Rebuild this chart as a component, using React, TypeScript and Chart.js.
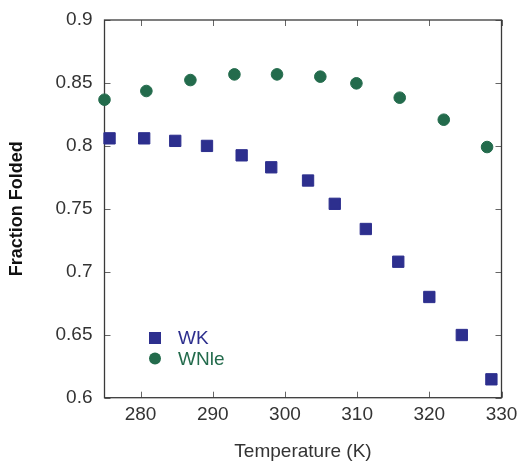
import React, { useEffect, useRef } from "react";
import { Chart, registerables } from "chart.js";

Chart.register(...registerables);

// ---- data ----
const seriesNames = ["WK", "WNle"];
const wkTemps = [275.7, 280.5, 284.8, 289.2, 294.0, 298.1, 303.2, 306.9, 311.2, 315.7, 320.0, 324.5, 328.6];
const wkFraction = [0.806, 0.806, 0.804, 0.8, 0.7925, 0.783, 0.7725, 0.754, 0.734, 0.708, 0.68, 0.6498, 0.6146];
const wnleTemps = [275.0, 280.8, 286.9, 293.0, 298.9, 304.9, 309.9, 315.9, 322.0, 328.0];
const wnleFraction = [0.8367, 0.8436, 0.8523, 0.8568, 0.8568, 0.855, 0.8497, 0.8383, 0.8208, 0.7991];
const xTickValues = [280, 290, 300, 310, 320, 330];
const yTickValues = [0.6, 0.65, 0.7, 0.75, 0.8, 0.85, 0.9];
const xRange = [275, 330];
const yRange = [0.6, 0.9];
const xTitle = "Temperature (K)";
const yTitle = "Fraction Folded";

const BLUE = "#2d2f8e";
const GREEN = "#236b4c";
const FONT = "'Liberation Sans', Arial, Helvetica, sans-serif";

const framePlugin = {
  id: "frameTicks",
  beforeDatasetsDraw(chart: any) {
    const { ctx, chartArea, scales } = chart;
    const { left, right, top, bottom } = chartArea;
    const x = scales.x;
    const y = scales.y;
    const tl = 6;
    ctx.save();
    ctx.strokeStyle = "#666";
    ctx.lineWidth = 1;
    ctx.beginPath();
    xTickValues.forEach((v) => {
      const px = Math.round(x.getPixelForValue(v)) + 0.5;
      ctx.moveTo(px, bottom);
      ctx.lineTo(px, bottom - tl);
      ctx.moveTo(px, top);
      ctx.lineTo(px, top + tl);
    });
    yTickValues.forEach((v) => {
      const py = Math.round(y.getPixelForValue(v)) + 0.5;
      ctx.moveTo(left, py);
      ctx.lineTo(left + tl, py);
      ctx.moveTo(right, py);
      ctx.lineTo(right - tl, py);
    });
    ctx.stroke();
    ctx.strokeStyle = "#3a3a3a";
    ctx.lineWidth = 1.3;
    ctx.strokeRect(left, top, right - left, bottom - top);
    ctx.restore();
  },
};

const legendPlugin = {
  id: "innerLegend",
  afterDatasetsDraw(chart: any) {
    const { ctx, chartArea } = chart;
    const mx = chartArea.left + 50.5;
    const tx = chartArea.left + 73.5;
    const rows = [chartArea.top + 318, chartArea.top + 338.5];
    ctx.save();
    ctx.font = `19px ${FONT}`;
    ctx.textBaseline = "middle";
    ctx.textAlign = "left";
    chart.data.datasets.forEach((ds: any, i: number) => {
      const cy = rows[i];
      ctx.fillStyle = ds.backgroundColor;
      if (ds.pointStyle === "rect") {
        ctx.fillRect(mx - 6, cy - 6, 12, 12);
      } else {
        ctx.beginPath();
        ctx.arc(mx, cy, 6, 0, Math.PI * 2);
        ctx.fill();
      }
      ctx.fillText(ds.label, tx, cy + 1);
    });
    ctx.restore();
  },
};

export default function App() {
  const ref = useRef<HTMLCanvasElement | null>(null);

  useEffect(() => {
    if (!ref.current) return;
    const chart = new Chart(ref.current, {
      type: "scatter",
      data: {
        datasets: [
          {
            label: seriesNames[0],
            data: wkTemps.map((t, i) => ({ x: t, y: wkFraction[i] })),
            pointStyle: "rect",
            pointRadius: 8,
            borderWidth: 1,
            backgroundColor: BLUE,
            borderColor: BLUE,
            clip: false,
          } as any,
          {
            label: seriesNames[1],
            data: wnleTemps.map((t, i) => ({ x: t, y: wnleFraction[i] })),
            pointStyle: "circle",
            pointRadius: 5.8,
            borderWidth: 1,
            backgroundColor: GREEN,
            borderColor: GREEN,
            clip: false,
          } as any,
        ],
      },
      options: {
        animation: false,
        responsive: true,
        maintainAspectRatio: false,
        layout: { padding: { top: 20, right: 17.5, bottom: 0, left: 0 } },
        plugins: {
          legend: { display: false },
          tooltip: { enabled: false },
        },
        scales: {
          x: {
            type: "linear",
            min: xRange[0],
            max: xRange[1],
            grid: { display: false, drawTicks: false },
            border: { display: false },
            afterBuildTicks: (axis: any) => {
              axis.ticks = xTickValues.map((v) => ({ value: v }));
            },
            afterFit: (s: any) => {
              s.height = 63.3;
              s.paddingLeft = 0;
              s.paddingRight = 0;
            },
            ticks: {
              padding: 6,
              color: "#333",
              font: { family: FONT, size: 19 },
              callback: (v: any) => String(v),
            },
            title: {
              display: true,
              text: xTitle,
              color: "#333",
              font: { family: FONT, size: 19, lineHeight: 1 },
              padding: { top: 0, bottom: 0 },
            },
          },
          y: {
            type: "linear",
            min: yRange[0],
            max: yRange[1],
            grid: { display: false, drawTicks: false },
            border: { display: false },
            afterBuildTicks: (axis: any) => {
              axis.ticks = yTickValues.map((v) => ({ value: v }));
            },
            afterFit: (s: any) => {
              s.width = 104.5;
              s.paddingTop = 0;
              s.paddingBottom = 0;
            },
            ticks: {
              padding: 12,
              color: "#333",
              font: { family: FONT, size: 19 },
              callback: (v: any) => String(Math.round(Number(v) * 100) / 100),
            },
            title: {
              display: true,
              text: yTitle,
              color: "#111",
              font: { family: FONT, size: 18, weight: "bold", lineHeight: 1.2 },
              padding: { top: 6, bottom: 0 },
            },
          },
        },
      },
      plugins: [framePlugin, legendPlugin],
    });
    return () => chart.destroy();
  }, []);

  return (
    <div style={{ position: "absolute", left: 0, top: 0, width: 519, height: 461 }}>
      <canvas ref={ref} />
    </div>
  );
}
